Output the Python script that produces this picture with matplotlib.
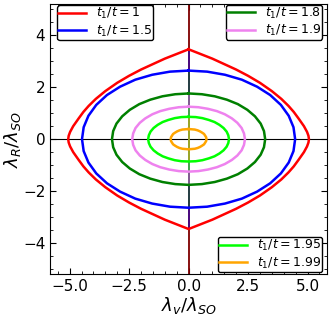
import numpy as np
import matplotlib
matplotlib.use('Agg')
import matplotlib.pyplot as plt
from matplotlib.ticker import AutoMinorLocator

# upper-right quadrant of each boundary (x = lambda_v, y = lambda_R)
ratios = ['1', '1.5', '1.8', '1.9', '1.95', '1.99']
colors = ['red', 'blue', 'green', 'violet', 'lime', 'orange']

red_x = [0, 1.0, 2.0, 2.5, 3.0, 3.5, 3.9, 4.2, 4.42, 4.62, 4.85, 4.98, 5.04, 5.06]
red_y = [3.46, 3.10, 2.68, 2.44, 2.17, 1.85, 1.55, 1.28, 1.05, 0.80, 0.50, 0.28, 0.13, 0]
blue_x = [0, 0.78, 1.53, 2.24, 2.88, 3.43, 3.88, 4.21, 4.41, 4.48]
blue_y = [2.64, 2.60, 2.48, 2.29, 2.02, 1.70, 1.32, 0.90, 0.46, 0]
green_x = [0, 0.56, 1.10, 1.61, 2.07, 2.47, 2.79, 3.03, 3.17, 3.22]
green_y = [1.76, 1.73, 1.65, 1.52, 1.35, 1.13, 0.88, 0.60, 0.31, 0]
violet_x = [0, 0.41, 0.81, 1.19, 1.52, 1.82, 2.05, 2.23, 2.33, 2.37]
violet_y = [1.25, 1.23, 1.17, 1.08, 0.96, 0.80, 0.63, 0.43, 0.22, 0]
lime_x = [0, 0.30, 0.58, 0.85, 1.09, 1.30, 1.47, 1.60, 1.67, 1.70]
lime_y = [0.86, 0.85, 0.81, 0.74, 0.66, 0.55, 0.43, 0.29, 0.15, 0]
orange_x = [0, 0.13, 0.26, 0.38, 0.48, 0.57, 0.65, 0.70, 0.74, 0.75]
orange_y = [0.39, 0.38, 0.37, 0.34, 0.30, 0.25, 0.20, 0.13, 0.07, 0]

curves = [(red_x, red_y), (blue_x, blue_y), (green_x, green_y),
          (violet_x, violet_y), (lime_x, lime_y), (orange_x, orange_y)]

def full_loop(qx, qy):
    # mirror the quadrant into a closed curve
    qx = np.array(qx); qy = np.array(qy)
    x = np.concatenate([qx, qx[::-1][1:], -qx[1:], -qx[::-1][1:]])
    y = np.concatenate([qy, -qy[::-1][1:], -qy[1:], qy[::-1][1:]])
    return x, y

plt.rcParams['font.size'] = 11
fig = plt.figure(figsize=[3.32, 3.17], dpi=100)
ax = fig.add_axes([0.151, 0.135, 0.834, 0.852])

ax.axhline(0, color='black', lw=0.8, zorder=1)
ax.axvline(0, color='black', lw=1.2, zorder=1)

lines = []
ylim = 5.2
prev_top = ylim
for (qx, qy), c, r in zip(curves, colors, ratios):
    x, y = full_loop(qx, qy)
    ln, = ax.plot(x, y, color=c, lw=1.8, label='$t_1/t=%s$' % r, zorder=3)
    ax.plot([0, 0], [-prev_top, prev_top], color=c, lw=1.3, alpha=0.5, zorder=2)
    prev_top = qy[0]
    lines.append(ln)

ax.set_xlim(-5.82, 5.82)
ax.set_ylim(-ylim, ylim)
ax.set_xticks([-5, -2.5, 0, 2.5, 5])
ax.set_yticks([-4, -2, 0, 2, 4])
ax.xaxis.set_minor_locator(AutoMinorLocator())
ax.yaxis.set_minor_locator(AutoMinorLocator())
ax.tick_params(which='both', direction='in', top=True, right=True)
ax.tick_params(which='major', length=4)
ax.tick_params(which='minor', length=2)
ax.set_xlabel(r'$\lambda_v/\lambda_{SO}$', fontsize=13, labelpad=1)
ax.set_ylabel(r'$\lambda_R/\lambda_{SO}$', fontsize=13, labelpad=0)

kw = dict(fontsize=9, edgecolor='black', framealpha=1, borderpad=0.1,
          labelspacing=0.2, handlelength=2.2, handletextpad=0.8,
          borderaxespad=0, bbox_transform=fig.transFigure)
leg1 = ax.legend(handles=lines[0:2], loc='upper left',
                 bbox_to_anchor=(57 / 332, 1 - 5 / 317), **kw)
ax.add_artist(leg1)
leg2 = ax.legend(handles=lines[2:4], loc='upper right',
                 bbox_to_anchor=(322 / 332, 1 - 4.5 / 317), **kw)
ax.add_artist(leg2)
ax.legend(handles=lines[4:6], loc='lower right',
          bbox_to_anchor=(322 / 332, 1 - 272 / 317), **kw)

plt.savefig('out.png', dpi=100)
